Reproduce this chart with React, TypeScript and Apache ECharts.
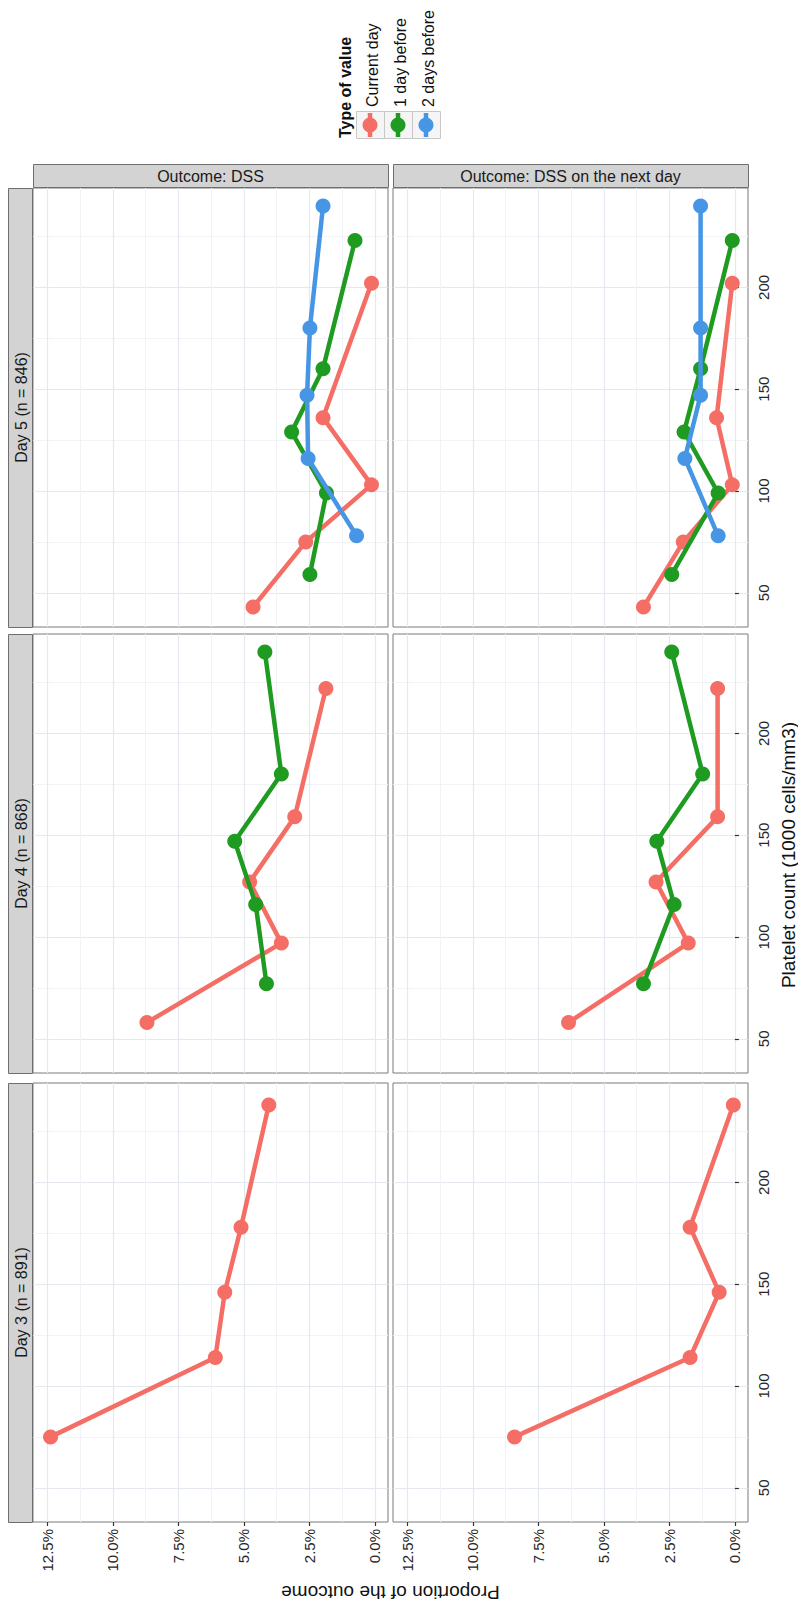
import { useEffect, useRef } from "react";
import * as echarts from "echarts";

// Legend / facet labels
const TYPES = ["Current day", "1 day before", "2 days before"];
const COLORS = ["#f46e66", "#1f9b22", "#4696e5"];
const OUTCOMES = ["Outcome: DSS", "Outcome: DSS on the next day"];
const DAYS = ["Day 5 (n = 846)", "Day 4 (n = 868)", "Day 3 (n = 891)"];

// Axis ticks
const PROP_TICKS = [0, 2.5, 5, 7.5, 10, 12.5];
const PROP_MINOR = [1.25, 3.75, 6.25, 8.75, 11.25];
const PLT_TICKS = [50, 100, 150, 200];
const PLT_MINOR = [75, 125, 175, 225];

// Platelet count (1000 cells/mm3), median of each bin
const d5CurPlt = [43, 75, 103, 136, 202];
const d5Prev1Plt = [59, 99, 129, 160, 223];
const d5Prev2Plt = [78, 116, 147, 180, 240];
const d4CurPlt = [58, 97, 127, 159, 222];
const d4Prev1Plt = [77, 116, 147, 180, 240];
const d3CurPlt = [75, 114, 146, 178, 238];

// Proportion of the outcome (%), outcome: DSS
const d5DssCur = [4.65, 2.64, 0.13, 1.98, 0.13];
const d5DssPrev1 = [2.48, 1.85, 3.18, 1.98, 0.76];
const d5DssPrev2 = [0.7, 2.55, 2.59, 2.48, 1.98];
const d4DssCur = [8.7, 3.57, 4.78, 3.06, 1.87];
const d4DssPrev1 = [4.14, 4.55, 5.35, 3.57, 4.2];
const d3DssCur = [12.38, 6.09, 5.73, 5.11, 4.05];

// Proportion of the outcome (%), outcome: DSS on the next day
const d5NextCur = [3.49, 1.97, 0.1, 0.7, 0.1];
const d5NextPrev1 = [2.41, 0.64, 1.94, 1.31, 0.1];
const d5NextPrev2 = [0.64, 1.91, 1.31, 1.31, 1.31];
const d4NextCur = [6.35, 1.78, 3.01, 0.66, 0.66];
const d4NextPrev1 = [3.49, 2.32, 2.98, 1.23, 2.41];
const d3NextCur = [8.41, 1.71, 0.6, 1.71, 0.06];

// [day row, outcome column, type, platelet, proportion]
const LINES: [number, number, number, number[], number[]][] = [
  [0, 0, 0, d5CurPlt, d5DssCur],
  [0, 0, 1, d5Prev1Plt, d5DssPrev1],
  [0, 0, 2, d5Prev2Plt, d5DssPrev2],
  [0, 1, 0, d5CurPlt, d5NextCur],
  [0, 1, 1, d5Prev1Plt, d5NextPrev1],
  [0, 1, 2, d5Prev2Plt, d5NextPrev2],
  [1, 0, 0, d4CurPlt, d4DssCur],
  [1, 0, 1, d4Prev1Plt, d4DssPrev1],
  [1, 1, 0, d4CurPlt, d4NextCur],
  [1, 1, 1, d4Prev1Plt, d4NextPrev1],
  [2, 0, 0, d3CurPlt, d3DssCur],
  [2, 1, 0, d3CurPlt, d3NextCur],
];

const FONT = "'Liberation Sans', Arial, Helvetica, sans-serif";
const COL_LEFT = [33, 393];
const PANEL_W = 355;
const ROW_TOP = [188, 634, 1083];
const PANEL_H = 439;
const PROP_MIN = -0.5;
const PROP_MAX = 13.05;
const PLT_MIN = 33.2;
const PLT_MAX = 248.8;
const MAJOR_GRID = "#e4e8ef";
const MINOR_GRID = "#f1f3f7";
const TEXT = "#262626";

function buildOption() {
  const grid: any[] = [];
  const xAxis: any[] = [];
  const yAxis: any[] = [];
  const series: any[] = [];

  for (let r = 0; r < 3; r++) {
    for (let c = 0; c < 2; c++) {
      const k = r * 2 + c;
      grid.push({
        left: COL_LEFT[c],
        top: ROW_TOP[r],
        width: PANEL_W,
        height: PANEL_H,
        show: true,
        backgroundColor: "#ffffff",
        borderColor: "#7a7a7a",
        borderWidth: 1,
        z: 0,
      });
      const bottom = r === 2;
      const right = c === 1;
      // proportion axis (major) + hidden minor grid axis
      xAxis.push({
        gridIndex: k,
        type: "value",
        inverse: true,
        min: PROP_MIN,
        max: PROP_MAX,
        position: "bottom",
        axisLine: { show: false },
        axisTick: {
          show: bottom,
          customValues: PROP_TICKS,
          length: 4,
          lineStyle: { color: "#333", width: 1.2 },
        },
        axisLabel: {
          show: bottom,
          customValues: PROP_TICKS,
          rotate: 90,
          margin: 7,
          fontSize: 15,
          color: TEXT,
          fontFamily: FONT,
          formatter: (v: number) => v.toFixed(1) + "%",
        },
        splitLine: { show: true, lineStyle: { color: MAJOR_GRID, width: 1.2 } },
      });
      xAxis.push({
        gridIndex: k,
        type: "value",
        inverse: true,
        min: PROP_MIN,
        max: PROP_MAX,
        axisLine: { show: false },
        axisTick: { show: false, customValues: PROP_MINOR },
        axisLabel: { show: false, customValues: PROP_MINOR },
        splitLine: { show: true, lineStyle: { color: MINOR_GRID, width: 1 } },
      });
      yAxis.push({
        gridIndex: k,
        type: "value",
        min: PLT_MIN,
        max: PLT_MAX,
        position: "right",
        axisLine: { show: false },
        axisTick: {
          show: right,
          customValues: PLT_TICKS,
          length: 4,
          lineStyle: { color: "#333", width: 1.2 },
        },
        axisLabel: {
          show: right,
          customValues: PLT_TICKS,
          rotate: 90,
          margin: 8,
          fontSize: 15,
          color: TEXT,
          fontFamily: FONT,
        },
        splitLine: { show: true, lineStyle: { color: MAJOR_GRID, width: 1.2 } },
      });
      yAxis.push({
        gridIndex: k,
        type: "value",
        min: PLT_MIN,
        max: PLT_MAX,
        position: "right",
        axisLine: { show: false },
        axisTick: { show: false, customValues: PLT_MINOR },
        axisLabel: { show: false, customValues: PLT_MINOR },
        splitLine: { show: true, lineStyle: { color: MINOR_GRID, width: 1 } },
      });
    }
  }

  LINES.forEach(([r, c, t, plt, prop]) => {
    const k = r * 2 + c;
    series.push({
      type: "line",
      name: TYPES[t],
      xAxisIndex: k * 2,
      yAxisIndex: k * 2,
      data: plt.map((v, i) => [prop[i], v]),
      symbol: "circle",
      symbolSize: 15,
      showSymbol: true,
      silent: true,
      z: 3 + t,
      lineStyle: { color: COLORS[t], width: 4.5 },
      itemStyle: { color: COLORS[t] },
    });
  });

  const graphic: any[] = [];
  // outcome strips (top)
  OUTCOMES.forEach((label, c) => {
    graphic.push({
      type: "rect",
      shape: { x: COL_LEFT[c] + 0.5, y: 164.5, width: PANEL_W, height: 23 },
      style: { fill: "#d3d3d3", stroke: "#6e6e6e", lineWidth: 1 },
    });
    graphic.push({
      type: "text",
      x: COL_LEFT[c] + PANEL_W / 2,
      y: 176,
      style: {
        text: label,
        fill: "#1a1a1a",
        font: `16px ${FONT}`,
        align: "center",
        verticalAlign: "middle",
      },
    });
  });
  // day strips (left)
  DAYS.forEach((label, r) => {
    graphic.push({
      type: "rect",
      shape: { x: 8.5, y: ROW_TOP[r] + 0.5, width: 24, height: PANEL_H },
      style: { fill: "#d3d3d3", stroke: "#6e6e6e", lineWidth: 1 },
    });
    graphic.push({
      type: "text",
      x: 21,
      y: ROW_TOP[r] + PANEL_H / 2,
      rotation: Math.PI / 2,
      style: {
        text: label,
        fill: "#1a1a1a",
        font: `16px ${FONT}`,
        align: "center",
        verticalAlign: "middle",
      },
    });
  });
  // axis titles
  graphic.push({
    type: "text",
    x: 788,
    y: (ROW_TOP[0] + ROW_TOP[2] + PANEL_H) / 2,
    rotation: Math.PI / 2,
    style: {
      text: "Platelet count (1000 cells/mm3)",
      fill: "#111",
      font: `19px ${FONT}`,
      align: "center",
      verticalAlign: "middle",
    },
  });
  graphic.push({
    type: "text",
    x: (COL_LEFT[0] + COL_LEFT[1] + PANEL_W) / 2,
    y: 1592,
    rotation: Math.PI,
    style: {
      text: "Proportion of the outcome",
      fill: "#111",
      font: `19px ${FONT}`,
      align: "center",
      verticalAlign: "middle",
    },
  });
  // legend
  graphic.push({
    type: "text",
    x: 345,
    y: 138,
    rotation: Math.PI / 2,
    style: {
      text: "Type of value",
      fill: "#111",
      font: `bold 16px ${FONT}`,
      align: "left",
      verticalAlign: "middle",
    },
  });
  TYPES.forEach((label, t) => {
    const kx = 356 + t * 28;
    const cx = kx + 14;
    graphic.push({
      type: "rect",
      shape: { x: kx + 0.5, y: 111.5, width: 28, height: 27 },
      style: { fill: "#f5f5f5", stroke: "#c8c8c8", lineWidth: 1 },
    });
    graphic.push({
      type: "line",
      shape: { x1: cx, y1: 113, x2: cx, y2: 137 },
      style: { stroke: COLORS[t], lineWidth: 4.5 },
    });
    graphic.push({
      type: "circle",
      shape: { cx, cy: 125, r: 7.5 },
      style: { fill: COLORS[t] },
    });
    graphic.push({
      type: "text",
      x: cx + 2,
      y: 107,
      rotation: Math.PI / 2,
      style: {
        text: label,
        fill: "#111",
        font: `16px ${FONT}`,
        align: "left",
        verticalAlign: "middle",
      },
    });
  });

  return {
    animation: false,
    backgroundColor: "#ffffff",
    textStyle: { fontFamily: FONT },
    grid,
    xAxis,
    yAxis,
    series,
    graphic,
  };
}

export default function App() {
  const ref = useRef<HTMLDivElement>(null);
  useEffect(() => {
    document.body.style.margin = "0";
    if (!ref.current) return;
    const chart = echarts.init(ref.current, undefined, { renderer: "svg" });
    chart.setOption(buildOption() as any);
    return () => chart.dispose();
  }, []);
  return <div ref={ref} style={{ width: 798, height: 1604 }} />;
}
